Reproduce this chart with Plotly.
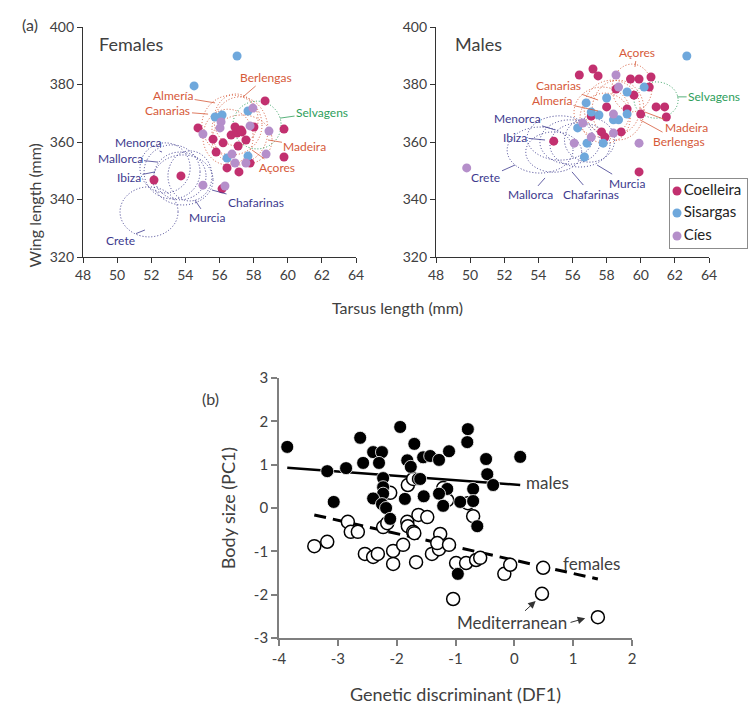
import plotly.graph_objects as go

W, H = 750, 707
FONT = "Lato"
TXT = "#404040"
C_COEL = "#c2306f"
C_SIS = "#6fa8dc"
C_CIES = "#b58fca"
C_ATL = "#d65a3a"
C_SEL = "#2e9e5b"
C_MED = "#3d3a8e"

# ---- panel (a) females: tarsus (mm), wing (mm)
f_coel_x = [54.74, 55.62, 55.80, 56.21, 56.68, 57.03, 57.32, 57.09, 57.55, 56.91, 57.26, 58.02,
            58.67, 59.78, 59.78, 57.79, 56.44, 57.14, 56.15, 52.16, 53.74]
f_coel_y = [364.9, 361.0, 356.5, 359.7, 362.4, 363.1, 363.5, 358.6, 360.7, 365.2, 364.2, 365.2,
            374.3, 364.5, 354.8, 352.7, 351.0, 349.6, 343.7, 346.8, 348.2]
f_sis_x = [57.03, 54.51, 57.67, 55.74, 56.15, 56.44, 57.67]
f_sis_y = [389.9, 379.5, 370.8, 368.7, 369.4, 354.4, 355.1]
f_cies_x = [57.96, 56.09, 56.03, 57.79, 58.90, 55.03, 58.73, 56.73, 57.55, 56.91, 56.32, 55.03]
f_cies_y = [371.8, 367.0, 364.9, 365.6, 363.8, 362.8, 355.8, 355.8, 352.7, 352.7, 344.7, 345.0]

# ---- panel (a) males
m_coel_x = [56.4, 57.2, 57.5, 59.4, 59.9, 60.6, 58.55, 60.5, 59.6, 58.0, 59.2, 60.9, 61.4,
            57.1, 60.0, 61.5, 57.7, 58.85, 57.9, 59.9, 54.9]
m_coel_y = [383.3, 385.4, 383.0, 381.9, 381.9, 382.6, 378.4, 379.1, 376.3, 372.2, 371.5, 372.2, 372.2,
            369.0, 369.7, 368.7, 363.5, 363.5, 361.7, 349.6, 360.3]
m_sis_x = [62.7, 59.2, 60.2, 58.0, 56.8, 57.1, 57.55, 59.2, 58.4, 58.7, 56.3, 56.85, 57.8, 56.7]
m_sis_y = [389.9, 377.4, 379.1, 375.3, 373.6, 370.4, 369.4, 369.7, 367.7, 367.7, 364.9, 359.6, 359.6, 354.8]
m_cies_x = [58.55, 58.7, 58.4, 56.6, 58.4, 57.1, 56.1, 59.9, 49.8]
m_cies_y = [383.3, 379.1, 369.7, 366.6, 363.1, 361.7, 359.6, 359.6, 351.0]

# population ellipses: centre x, centre y, radius x, radius y
f_atl_ell = [(56.73, 365.9, 1.76, 10.4), (57.20, 364.2, 1.64, 11.5), (56.50, 361.7, 1.47, 9.7),
             (57.32, 360.7, 1.76, 8.7), (56.97, 367.7, 1.29, 9.0)]
f_sel_ell = [(58.2, 365.9, 1.41, 8.3)]
f_med_ell = [(52.81, 351.0, 1.47, 8.7), (53.22, 349.6, 1.64, 9.4), (53.69, 348.2, 1.52, 8.3),
             (53.86, 346.8, 1.76, 8.7), (54.27, 348.2, 1.29, 8.7), (51.87, 335.7, 1.70, 8.7)]
m_atl_ell = [(57.73, 370.4, 1.64, 8.7), (58.32, 371.8, 1.64, 9.7), (57.91, 368.3, 1.47, 8.7),
             (58.67, 371.1, 1.52, 10.4), (59.49, 378.8, 1.17, 8.3)]
m_sel_ell = [(60.9, 374.6, 1.29, 6.3)]
m_med_ell = [(55.27, 361.4, 1.93, 7.7), (55.85, 360.0, 1.76, 7.7), (54.1, 357.2, 1.93, 8.0),
             (56.44, 359.0, 1.76, 7.7), (57.0, 360.7, 1.47, 7.7), (54.9, 356.5, 1.64, 7.0)]

# population labels: name, label x, label y, pointer x, pointer y, group
f_labels = [("Almería", 53.28, 376.0, 55.74, 373.6, "atl"), ("Canarias", 52.98, 370.8, 55.33, 369.7, "atl"),
            ("Berlengas", 58.73, 382.6, 57.38, 375.7, "atl"), ("Selvagens", 62.01, 370.4, 59.55, 368.3, "sel"),
            ("Madeira", 61.01, 358.6, 58.84, 360.7, "atl"), ("Açores", 59.37, 351.0, 57.91, 357.2, "atl"),
            ("Menorca", 51.28, 360.0, 52.63, 356.5, "med"), ("Mallorca", 50.17, 354.4, 52.40, 353.0, "med"),
            ("Ibiza", 50.70, 347.8, 52.22, 349.6, "med"), ("Murcia", 55.27, 333.6, 54.56, 339.8, "med"),
            ("Chafarinas", 58.14, 339.1, 55.56, 343.3, "med"), ("Crete", 50.17, 325.9, 51.63, 329.4, "med")]
m_labels = [("Canarias", 55.15, 379.5, 57.5, 374.6, "atl"), ("Almería", 54.80, 374.3, 57.5, 370.8, "atl"),
            ("Açores", 59.78, 391.3, 59.66, 386.1, "atl"), ("Selvagens", 64.30, 375.7, 62.13, 375.7, "sel"),
            ("Madeira", 62.71, 364.9, 60.25, 370.4, "atl"), ("Berlengas", 62.24, 360.3, 59.96, 367.7, "atl"),
            ("Menorca", 52.75, 368.3, 54.98, 364.2, "med"), ("Ibiza", 52.63, 361.7, 54.39, 360.7, "med"),
            ("Crete", 50.93, 347.5, 52.63, 352.0, "med"), ("Mallorca", 53.51, 341.6, 54.39, 347.5, "med"),
            ("Chafarinas", 57.09, 341.9, 55.97, 349.6, "med"), ("Murcia", 59.2, 345.7, 57.44, 352.0, "med")]

legend_names = ["Coelleira", "Sisargas", "Cíes"]
legend_colors = [C_COEL, C_SIS, C_CIES]

# ---- panel (b): genetic discriminant vs body size
male_df1 = [-3.86, -3.18, -2.86, -3.07, -2.62, -2.57, -2.40, -2.25, -2.30, -2.23, -2.23, -2.23, -2.40,
            -2.25, -2.18, -2.11, -1.94, -1.86, -1.82, -1.76, -1.70, -1.64, -1.55, -1.43, -1.28, -1.11,
            -0.79, -0.80, -0.48, -0.46, -0.36, 0.10, -1.60, -1.14, -1.28, -1.54, -1.21, -0.92, -0.70,
            -0.70, -0.63, -0.96]
male_pc1 = [1.41, 0.85, 0.92, 0.14, 1.62, 1.04, 1.29, 1.29, 1.04, 0.69, 0.48, 0.33, 0.22,
            0.09, 0.00, -0.25, 1.87, 0.21, 1.10, 0.95, 1.48, 0.67, 1.17, 1.20, 1.11, 1.31,
            1.82, 1.52, 1.13, 0.78, 0.53, 1.18, 0.67, 0.44, 0.33, 0.27, 0.05, 0.14, 0.44,
            0.16, -0.42, -1.52]
fem_df1 = [-2.83, -2.78, -2.66, -2.11, -2.23, -2.16, -1.82, -1.81, -1.72, -1.81, -3.40, -3.18, -2.54,
           -2.40, -2.32, -2.06, -2.06, -1.89, -1.67, -1.63, -1.48, -1.70, -1.26, -1.21, -1.14, -0.79,
           -0.70, -1.72, -1.40, -1.28, -1.31, -1.11, -0.99, -0.82, -0.65, -0.58, -0.17, -0.07, 0.49,
           -1.04, 0.47, 1.42]
fem_pc1 = [-0.32, -0.55, -0.55, 0.35, -0.44, -0.35, -0.32, -0.42, -0.55, 0.53, -0.88, -0.78, -1.06,
           -1.13, -1.06, -0.99, -1.29, -0.85, -1.25, -0.16, -0.21, -0.58, -0.60, 0.46, 0.18, 0.11,
           -0.19, 0.67, -1.06, -0.95, -0.81, -0.85, -1.27, -1.27, -1.20, -1.15, -1.52, -1.31, -1.38,
           -2.10, -1.98, -2.52]
male_fit_x, male_fit_y = [-3.86, 0.10], [0.93, 0.53]
fem_fit_x, fem_fit_y = [-3.40, 1.42], [-0.16, -1.64]

top_xticks = [48, 50, 52, 54, 56, 58, 60, 62, 64]
top_yticks = [320, 340, 360, 380, 400]
bot_xticks = [-4, -3, -2, -1, 0, 1, 2]
bot_yticks = [-3, -2, -1, 0, 1, 2, 3]


def py(p):
    return 1 - p / H


fig = go.Figure()

ell_col = {"atl": C_ATL, "sel": C_SEL, "med": C_MED}
shapes = []
for xr, yr, groups in [("x", "y", [(f_atl_ell, "atl"), (f_sel_ell, "sel"), (f_med_ell, "med")]),
                       ("x2", "y2", [(m_atl_ell, "atl"), (m_sel_ell, "sel"), (m_med_ell, "med")])]:
    for ells, g in groups:
        for cx, cy, rx, ry in ells:
            shapes.append(dict(type="circle", xref=xr, yref=yr, x0=cx - rx, x1=cx + rx,
                               y0=cy - ry, y1=cy + ry, layer="below",
                               line=dict(color=ell_col[g], width=1, dash="1px,2px")))

for xs, ys, name, col in [(f_coel_x, f_coel_y, "Coelleira", C_COEL), (f_sis_x, f_sis_y, "Sisargas", C_SIS),
                          (f_cies_x, f_cies_y, "Cíes", C_CIES)]:
    fig.add_trace(go.Scatter(x=xs, y=ys, mode="markers", name=name, showlegend=False,
                             marker=dict(size=9, color=col), xaxis="x", yaxis="y"))
for xs, ys, name, col in [(m_coel_x, m_coel_y, "Coelleira", C_COEL), (m_sis_x, m_sis_y, "Sisargas", C_SIS),
                          (m_cies_x, m_cies_y, "Cíes", C_CIES)]:
    fig.add_trace(go.Scatter(x=xs, y=ys, mode="markers", name=name, showlegend=False,
                             marker=dict(size=9, color=col), xaxis="x2", yaxis="y2"))

# boxed key, drawn on its own small axis (units are pixels inside the box)
fig.add_trace(go.Scatter(x=[7, 7, 7], y=[12, 34, 57], mode="markers+text", text=legend_names,
                         textposition="middle right", showlegend=False, hoverinfo="skip",
                         marker=dict(size=9, color=legend_colors),
                         textfont=dict(family=FONT, size=15, color="#222222"),
                         xaxis="x4", yaxis="y4"))

fig.add_trace(go.Scatter(x=male_fit_x, y=male_fit_y, mode="lines", showlegend=False,
                         line=dict(color="black", width=2.5), xaxis="x3", yaxis="y3"))
fig.add_trace(go.Scatter(x=fem_fit_x, y=fem_fit_y, mode="lines", showlegend=False,
                         line=dict(color="black", width=3, dash="12px,7px"), xaxis="x3", yaxis="y3"))
fig.add_trace(go.Scatter(x=fem_df1, y=fem_pc1, mode="markers", showlegend=False,
                         marker=dict(size=13, color="white", line=dict(color="black", width=1.5)),
                         xaxis="x3", yaxis="y3"))
fig.add_trace(go.Scatter(x=male_df1, y=male_pc1, mode="markers", showlegend=False,
                         marker=dict(size=13, color="black", line=dict(color="white", width=0.8)),
                         xaxis="x3", yaxis="y3"))

ann = []
for labels, xr, yr in [(f_labels, "x", "y"), (m_labels, "x2", "y2")]:
    for name, lx, ly, tx, ty, g in labels:
        ann.append(dict(text=name, x=tx, y=ty, ax=lx, ay=ly, xref=xr, yref=yr, axref=xr, ayref=yr,
                        showarrow=True, arrowhead=0, arrowwidth=0.8, arrowcolor=ell_col[g], standoff=0,
                        font=dict(family=FONT, size=12, color=ell_col[g])))

ann += [
    dict(text="(a)", x=20 / W, y=py(13), xref="paper", yref="paper", showarrow=False,
         font=dict(family=FONT, size=16, color=TXT)),
    dict(text="(b)", x=200 / W, y=py(398), xref="paper", yref="paper", showarrow=False,
         font=dict(family=FONT, size=16, color=TXT)),
    dict(text="Females", x=97 / W, y=py(31), xref="paper", yref="paper", xanchor="left", showarrow=False,
         font=dict(family=FONT, size=18, color=TXT)),
    dict(text="Males", x=453 / W, y=py(31), xref="paper", yref="paper", xanchor="left", showarrow=False,
         font=dict(family=FONT, size=18, color=TXT)),
    dict(text="Tarsus length (mm)", x=397 / W, y=py(308), xref="paper", yref="paper", showarrow=False,
         font=dict(family=FONT, size=16, color=TXT)),
    dict(text="Wing length (mm)", x=22 / W, y=py(142), xref="paper", yref="paper", showarrow=False,
         textangle=-90, font=dict(family=FONT, size=16, color=TXT)),
    dict(text="males", x=0.56, y=0.58, xref="x3", yref="y3", showarrow=False,
         font=dict(family=FONT, size=17, color=TXT)),
    dict(text="females", x=1.32, y=-1.27, xref="x3", yref="y3", showarrow=False,
         font=dict(family=FONT, size=17, color=TXT)),
    dict(text="Mediterranean", x=0.40, y=-2.10, ax=-0.04, ay=-2.65, xref="x3", yref="y3",
         axref="x3", ayref="y3", showarrow=True, arrowhead=2, arrowsize=1.5, arrowwidth=1,
         arrowcolor="#333333", standoff=3, font=dict(family=FONT, size=17, color=TXT)),
    dict(text="", x=1.27, y=-2.52, ax=0.93, ay=-2.65, xref="x3", yref="y3",
         axref="x3", ayref="y3", showarrow=True, arrowhead=2, arrowsize=1.5, arrowwidth=1,
         arrowcolor="#333333", standoff=4),
]

top_ax = dict(showline=True, linecolor="#333333", linewidth=1.3, ticks="outside", ticklen=5,
              tickcolor="#333333", showgrid=False, zeroline=False, automargin=False,
              tickfont=dict(family=FONT, size=14, color=TXT))
bot_ax = dict(showline=True, linecolor="#7f7f7f", linewidth=1.8, ticks="outside", ticklen=6,
              tickwidth=1.5, tickcolor="#7f7f7f", showgrid=False, zeroline=False, automargin=False,
              tickfont=dict(family=FONT, size=15, color=TXT))
key_ax = dict(showline=True, mirror=True, linecolor="#8c8c8c", linewidth=1, showgrid=False,
              zeroline=False, showticklabels=False, ticks="", automargin=False, fixedrange=True)

fig.update_layout(
    template="none",
    width=W, height=H,
    margin=dict(l=0, r=0, t=0, b=0),
    paper_bgcolor="white", plot_bgcolor="rgba(0,0,0,0)",
    showlegend=False,
    xaxis=dict(top_ax, domain=[83 / W, 356 / W], range=[48, 64], tickvals=top_xticks, anchor="y"),
    yaxis=dict(top_ax, domain=[py(257), py(27)], range=[320, 400], tickvals=top_yticks, anchor="x"),
    xaxis2=dict(top_ax, domain=[436 / W, 709 / W], range=[48, 64], tickvals=top_xticks, anchor="y2"),
    yaxis2=dict(top_ax, domain=[py(257), py(27)], range=[320, 400], tickvals=top_yticks, anchor="x2"),
    xaxis3=dict(bot_ax, domain=[279 / W, 632 / W], range=[-4, 2], tickvals=bot_xticks,
                ticktext=[str(v) for v in bot_xticks], anchor="y3",
                title=dict(text="Genetic discriminant (DF1)", standoff=22,
                           font=dict(family=FONT, size=18, color=TXT))),
    yaxis3=dict(bot_ax, domain=[py(638), py(378)], range=[-3, 3], tickvals=bot_yticks,
                ticktext=[str(v) for v in bot_yticks], anchor="x3",
                title=dict(text="Body size (PC1)", standoff=14,
                           font=dict(family=FONT, size=18, color=TXT))),
    xaxis4=dict(key_ax, domain=[670 / W, 747 / W], range=[0, 77], anchor="y4"),
    yaxis4=dict(key_ax, domain=[py(248), py(179)], range=[69, 0], anchor="x4"),
    shapes=shapes,
    annotations=ann,
)

fig.write_html("out.html", config={"displayModeBar": False},
               post_script="document.body.style.margin='0';document.body.style.overflow='hidden';")
